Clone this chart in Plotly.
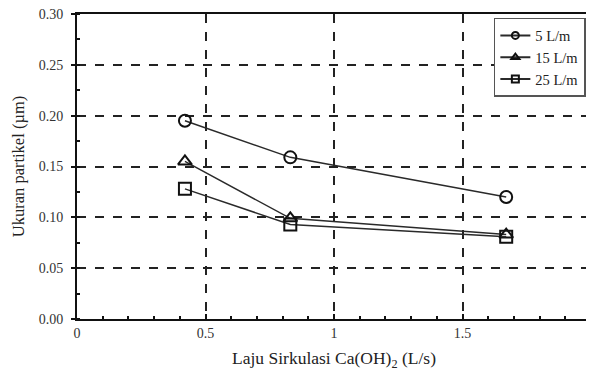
import plotly.graph_objects as go

x_vals = [0.42, 0.83, 1.67]
y_5 = [0.195, 0.159, 0.120]
y_15 = [0.155, 0.099, 0.083]
y_25 = [0.128, 0.093, 0.081]
series_names = ["5 L/m", "15 L/m", "25 L/m"]
symbols = ["circle-open", "triangle-up-open", "square-open"]

fig = go.Figure()
for name, ys, sym in zip(series_names, [y_5, y_15, y_25], symbols):
    fig.add_trace(go.Scatter(
        x=x_vals, y=ys, name=name, mode="lines+markers", showlegend=False,
        line=dict(color="#2a2a2a", width=1.5),
        marker=dict(symbol=sym, size=12, color="#111", line=dict(width=2, color="#111")),
    ))
# legend entries (smaller markers, as in the reference legend)
for name, sym in zip(series_names, symbols):
    fig.add_trace(go.Scatter(
        x=[None], y=[None], name=name, mode="lines+markers",
        line=dict(color="#2a2a2a", width=2),
        marker=dict(symbol=sym, size=7, color="#111", line=dict(width=2, color="#111")),
    ))

font_family = "Liberation Serif, Times New Roman, serif"
fig.update_layout(
    width=586, height=363,
    margin=dict(l=69, r=3, t=6, b=52),
    paper_bgcolor="white", plot_bgcolor="white",
    font=dict(family=font_family, size=14, color="#333"),
    showlegend=True,
    legend=dict(x=0.99, y=0.987, xanchor="right", yanchor="top",
                bgcolor="white", bordercolor="#555", borderwidth=1.5,
                font=dict(size=14.5, family=font_family, color="#222"), tracegroupgap=0,
                itemwidth=30),
    xaxis=dict(
        range=[0, 2], tickvals=[0, 0.5, 1, 1.5, 2], ticktext=["0", "0.5", "1", "1.5", "2"],
        showgrid=True, gridcolor="#222", griddash="dash", gridwidth=1.5,
        zeroline=False, showline=True, linecolor="#111", linewidth=2, mirror=True,
        ticks="inside", ticklen=5, tickcolor="#111", tickwidth=1.5,
        ticklabeloverflow="allow",
        minor=dict(dtick=0.1, ticks="inside", ticklen=3, tickcolor="#111", showgrid=False),
        title=dict(text="Laju Sirkulasi Ca(OH)<sub>2</sub> (L/s)", font=dict(size=17.5, color="#222"), standoff=12),
        tickfont=dict(size=14), automargin=False,
    ),
    yaxis=dict(
        range=[0, 0.3], tickvals=[0, 0.05, 0.1, 0.15, 0.2, 0.25, 0.3],
        ticktext=["0.00", "0.05", "0.10", "0.15", "0.20", "0.25", "0.30"],
        showgrid=True, gridcolor="#222", griddash="dash", gridwidth=1.5,
        zeroline=False, showline=True, linecolor="#111", linewidth=2, mirror=True,
        ticks="outside", ticklen=4, tickcolor="#111", tickwidth=1.5,
        ticklabelstandoff=5, ticklabeloverflow="allow",
        minor=dict(dtick=0.025, ticks="inside", ticklen=3, tickcolor="#111", showgrid=False),
        title=dict(text="Ukuran partikel (µm)", font=dict(size=16.5, color="#222"), standoff=10),
        tickfont=dict(size=14), automargin=False,
    ),
)

fig.write_html("out.html")
